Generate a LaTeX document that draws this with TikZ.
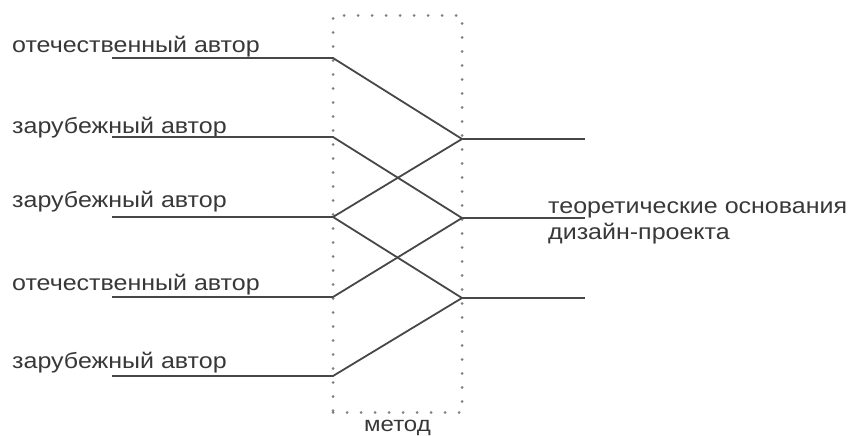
\documentclass[tikz,border=0pt]{standalone}
\usepackage{fontspec}
\setmainfont{Liberation Sans}
\begin{document}
\begin{tikzpicture}[x=1pt,y=-1pt,
  wire/.style={draw=black!72, line width=1.8pt},
  lbl/.style={anchor=base west, inner sep=0pt, text=black!78, font=\fontsize{25}{28}\selectfont},
  box/.style={draw=black!50, line width=3pt, line cap=round, dash pattern=on 0pt off 14pt}]
\useasboundingbox (0,0) rectangle (857,436);
% dotted method box
\node[box, minimum width=129pt, minimum height=397pt, inner sep=0pt] (m) at (397.5,214) {};
\node[anchor=base, inner sep=0pt, text=black!78, font=\fontsize{24}{28}\selectfont] (mt) at (397.5,431) {\scalebox{1}[0.88]{метод}};
% left inputs
\coordinate (a1s) at (112,58);  \coordinate (a1) at (333,58);
\coordinate (a2s) at (112,137); \coordinate (a2) at (333,137);
\coordinate (a3s) at (112,217); \coordinate (a3) at (333,217);
\coordinate (a4s) at (112,297); \coordinate (a4) at (333,297);
\coordinate (a5s) at (112,376); \coordinate (a5) at (333,376);
% right junctions
\coordinate (b1) at (462,139); \coordinate (b1e) at (585,139);
\coordinate (b2) at (462,218); \coordinate (b2e) at (585,218);
\coordinate (b3) at (462,298); \coordinate (b3e) at (585,298);
% labels
\node[lbl] (t1) at (12,53)  {\scalebox{1}[0.88]{отечественный автор}};
\node[lbl] (t2) at (12,133) {\scalebox{1}[0.88]{зарубежный автор}};
\node[lbl] (t3) at (12,207) {\scalebox{1}[0.88]{зарубежный автор}};
\node[lbl] (t4) at (12,290) {\scalebox{1}[0.88]{отечественный автор}};
\node[lbl] (t5) at (12,368) {\scalebox{1}[0.88]{зарубежный автор}};
\node[lbl] (r1) at (548,213) {\scalebox{1}[0.88]{теоретические основания}};
\node[lbl] (r2) at (548,239) {\scalebox{1}[0.88]{дизайн-проекта}};
% wires
\draw[wire] (a1s) -- (a1) -- (b1);
\draw[wire] (a2s) -- (a2) -- (b2);
\draw[wire] (a3s) -- (a3) -- (b1);
\draw[wire] (a3) -- (b3);
\draw[wire] (a4s) -- (a4) -- (b2);
\draw[wire] (a5s) -- (a5) -- (b3);
\draw[wire] (b1) -- (b1e);
\draw[wire] (b2) -- (b2e);
\draw[wire] (b3) -- (b3e);
\end{tikzpicture}
\end{document}
